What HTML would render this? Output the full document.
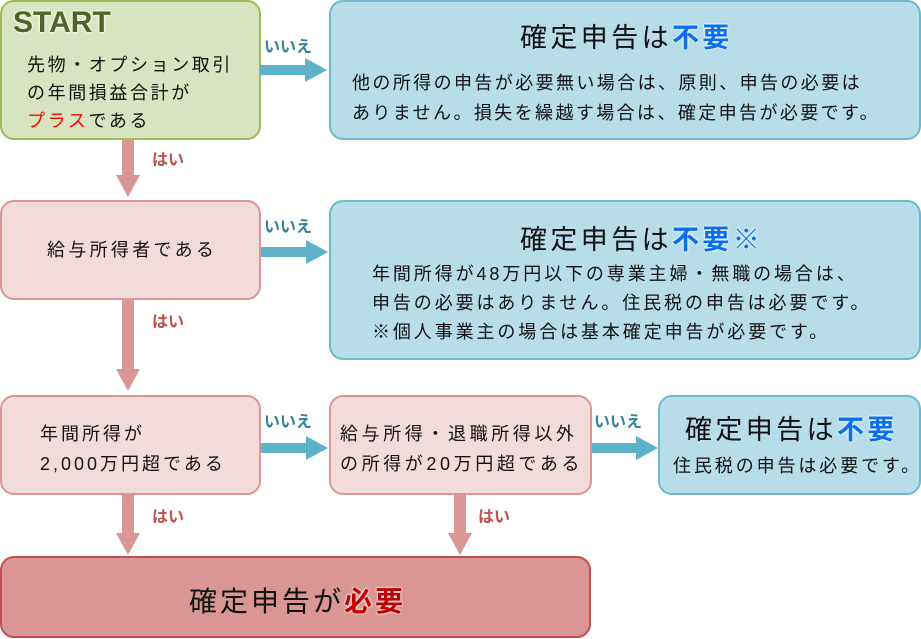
<!DOCTYPE html>
<html><head><meta charset="utf-8"><style>
body{margin:0;width:921px;height:639px;position:relative;background:#fff;font-family:"Liberation Sans","Noto Sans CJK JP",sans-serif;overflow:hidden}
.b{position:absolute;box-sizing:border-box;border:2px solid;border-radius:14px}
.g{background:#d8e4bf;border-color:#9bbb59}
.p{background:#f2dcdb;border-color:#d99694}
.c{background:#b7dde8;border-color:#6cb8cc}
.t{position:absolute;font-size:18px;color:#111;line-height:28px;letter-spacing:3.3px;white-space:nowrap}
.h{position:absolute;font-size:27px;color:#111;letter-spacing:3.4px;white-space:nowrap}
.bl{color:#0a6ef0;font-weight:bold;text-shadow:0 0 2px #fff,0 0 2px #fff}
.n{position:absolute;font-size:16px;font-weight:bold;color:#31849b}
.y{position:absolute;font-size:16px;font-weight:bold;color:#c0504d}
.ha{position:absolute;height:10px;background:#5db2c9}
.hh{position:absolute;width:0;height:0;border-top:12px solid transparent;border-bottom:12px solid transparent;border-left:22px solid #5db2c9}
.va{position:absolute;width:12px;background:#d99694}
.vh{position:absolute;width:0;height:0;border-left:12px solid transparent;border-right:12px solid transparent;border-top:22px solid #d99694}
</style></head><body>
<div class="b g" style="left:0;top:0;width:261px;height:140px"></div>
<div style="position:absolute;left:13px;top:6px;font-size:30px;font-weight:bold;color:#4f6228;text-shadow:0 0 3px #fff,0 0 2px #fff">START</div>
<div class="t" style="left:27px;top:51px;letter-spacing:2.6px">先物・オプション取引<br>の年間損益合計が<br><span style="color:#f00">プラス</span>である</div>

<div class="b c" style="left:329px;top:0;width:592px;height:140px"></div>
<div class="h" style="left:520px;top:16px">確定申告は<span class="bl">不要</span></div>
<div class="t" style="left:352px;top:68px;line-height:30px;letter-spacing:2.4px">他の所得の申告が必要無い場合は、原則、申告の必要は<br>ありません。損失を繰越す場合は、確定申告が必要です。</div>

<div class="ha" style="left:260px;top:65px;width:46px"></div><div class="hh" style="left:305px;top:58px"></div>
<div class="n" style="left:264px;top:33px">いいえ</div>
<div class="va" style="left:122px;top:140px;height:36px"></div><div class="vh" style="left:116px;top:175px"></div>
<div class="y" style="left:152px;top:146px">はい</div>

<div class="b p" style="left:0;top:200px;width:261px;height:100px"></div>
<div class="t" style="left:47px;top:236px">給与所得者である</div>
<div class="b c" style="left:329px;top:200px;width:592px;height:160px"></div>
<div class="h" style="left:520px;top:218px">確定申告は<span class="bl">不要※</span></div>
<div class="t" style="left:372px;top:260px;line-height:29px;letter-spacing:2.9px">年間所得が48万円以下の専業主婦・無職の場合は、<br>申告の必要はありません。住民税の申告は必要です。<br>※個人事業主の場合は基本確定申告が必要です。</div>
<div class="ha" style="left:261px;top:247px;width:46px"></div><div class="hh" style="left:306px;top:240px"></div>
<div class="n" style="left:264px;top:213px">いいえ</div>
<div class="va" style="left:122px;top:300px;height:70px"></div><div class="vh" style="left:116px;top:369px"></div>
<div class="y" style="left:152px;top:308px">はい</div>

<div class="b p" style="left:0;top:395px;width:261px;height:100px"></div>
<div class="t" style="left:40px;top:419px;line-height:30px;letter-spacing:3px">年間所得が<br>2,000万円超である</div>
<div class="b p" style="left:329px;top:395px;width:263px;height:100px"></div>
<div class="t" style="left:340px;top:419px;line-height:30px;letter-spacing:3.6px">給与所得・退職所得以外<br>の所得が20万円超である</div>
<div class="b c" style="left:658px;top:395px;width:263px;height:100px"></div>
<div class="h" style="left:685px;top:408px">確定申告は<span class="bl">不要</span></div>
<div class="t" style="left:673px;top:452px;letter-spacing:2.9px">住民税の申告は必要です。</div>
<div class="ha" style="left:261px;top:443px;width:46px"></div><div class="hh" style="left:306px;top:436px"></div>
<div class="n" style="left:264px;top:408px">いいえ</div>
<div class="ha" style="left:592px;top:443px;width:46px"></div><div class="hh" style="left:636px;top:436px"></div>
<div class="n" style="left:594px;top:408px">いいえ</div>
<div class="va" style="left:122px;top:495px;height:40px"></div><div class="vh" style="left:116px;top:533px"></div>
<div class="y" style="left:152px;top:503px">はい</div>
<div class="va" style="left:454px;top:495px;height:40px"></div><div class="vh" style="left:448px;top:533px"></div>
<div class="y" style="left:478px;top:503px">はい</div>

<div class="b" style="left:0;top:556px;width:591px;height:82px;background:#da9694;border-color:#c0504d"></div>
<div class="h" style="left:189px;top:580px;font-size:28px;letter-spacing:3px">確定申告が<span style="color:#c00000;font-weight:bold;text-shadow:0 0 2px #fff,0 0 2px #fff">必要</span></div>
</body></html>
